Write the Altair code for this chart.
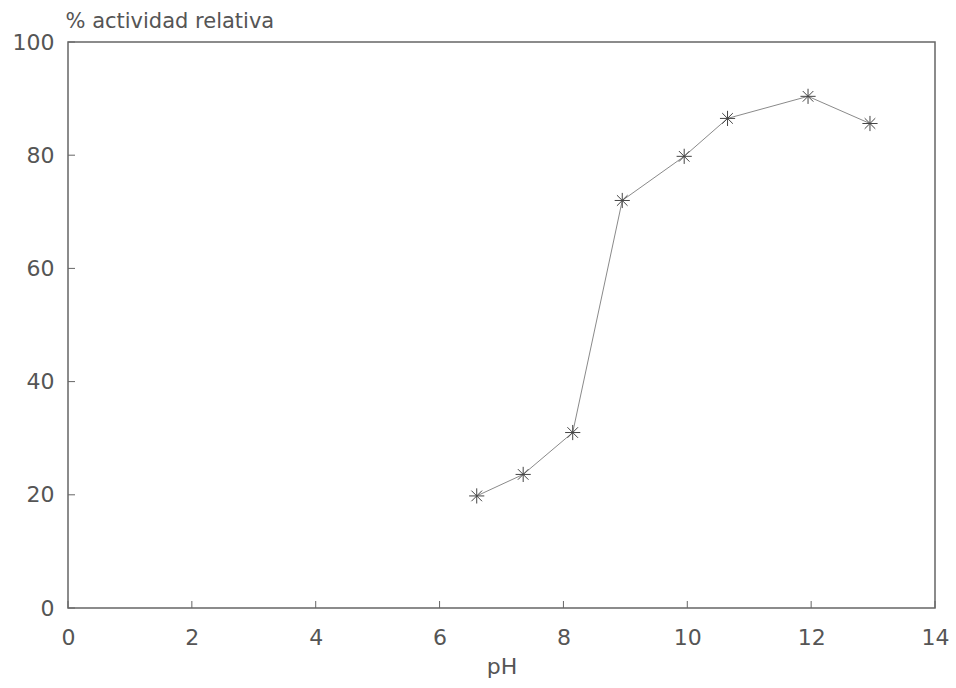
import altair as alt
import pandas as pd

ph = [6.6, 7.35, 8.15, 8.95, 9.95, 10.65, 11.95, 12.95]
actividad = [19.8, 23.6, 31.0, 72.0, 79.8, 86.5, 90.4, 85.6]
x_ticks = [0, 2, 4, 6, 8, 10, 12, 14]
y_ticks = [0, 20, 40, 60, 80, 100]

df = pd.DataFrame({"pH": ph, "act": actividad})
W, H = 867, 566
FONT = "DejaVu Sans"
GRAY = "#555555"

xs = alt.Scale(domain=[0, 14], nice=False, zero=False)
ys = alt.Scale(domain=[0, 100], nice=False)

base = alt.Chart(df)

line = base.mark_line(color="#8a8a8a", strokeWidth=1).encode(
    x=alt.X("pH:Q", scale=xs, axis=alt.Axis(
        values=x_ticks, title="pH", ticks=False, domain=False, grid=False, format="d",
        labelFlush=False, labelOverlap=False,
        labelPadding=19, labelFontSize=22, labelColor=GRAY, labelFont=FONT,
        titleFontSize=22, titleFont=FONT, titleColor=GRAY, titleFontWeight="normal",
        titlePadding=8)),
    y=alt.Y("act:Q", scale=ys, axis=alt.Axis(
        values=y_ticks, title="% actividad relativa", ticks=False, domain=False, grid=False,
        labelFlush=False, labelOverlap=False,
        labelPadding=14, labelFontSize=22, labelColor=GRAY, labelFont=FONT,
        titleAngle=0, titleAlign="left", titleBaseline="alphabetic", titleX=-3, titleY=-15,
        titleFontSize=21, titleFont=FONT, titleColor=GRAY, titleFontWeight="normal")),
)

star = "M-1,0L1,0M0,-1L0,1M-0.7,-0.7L0.7,0.7M-0.7,0.7L0.7,-0.7"
pts = base.mark_point(shape=star, filled=False, size=230, stroke="#444444", strokeWidth=1, opacity=1).encode(
    x=alt.X("pH:Q", scale=xs), y=alt.Y("act:Q", scale=ys))

xt = alt.Chart(pd.DataFrame({"t": x_ticks})).mark_rule(color="#666666", strokeWidth=1).encode(
    x=alt.X("t:Q", scale=xs), y=alt.value(H), y2=alt.value(H - 7))
yt = alt.Chart(pd.DataFrame({"t": y_ticks})).mark_rule(color="#666666", strokeWidth=1).encode(
    y=alt.Y("t:Q", scale=ys), x=alt.value(0), x2=alt.value(7))

chart = alt.layer(xt, yt, line, pts).properties(
    width=W, height=H,
    autosize=alt.AutoSizeParams(type="none"),
    padding={"left": 68, "top": 42, "right": 21, "bottom": 80},
    background="white",
).configure_view(stroke="#666666", strokeWidth=1.5)

chart.save("out.html", embed_options={"renderer": "svg", "actions": False})
